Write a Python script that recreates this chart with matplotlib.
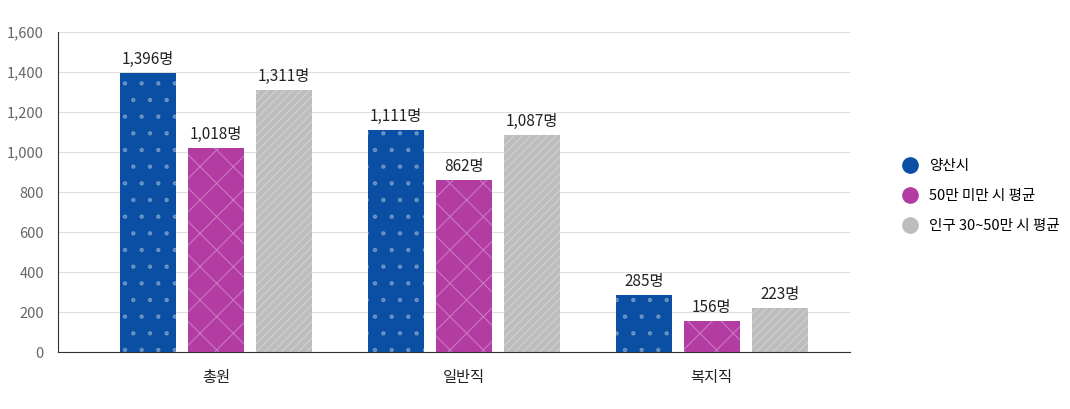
import matplotlib.pyplot as plt
import numpy as np

plt.rcParams['font.family'] = ['Noto Sans CJK KR', 'DejaVu Sans']
plt.rcParams['hatch.linewidth'] = 0.8

categories = ['총원', '일반직', '복지직']
series = ['양산시', '50만 미만 시 평균', '인구 30~50만 시 평균']
yangsan = [1396, 1111, 285]
under50 = [1018, 862, 156]
pop3050 = [1311, 1087, 223]

colors = ['#0a4fa3', '#b33ca3', '#bdbdbd']
hatches = ['.', 'x', '////']

fig = plt.figure(figsize=(10.7, 4.09), dpi=100)
ax = fig.add_axes([0.054, 0.139, 0.74, 0.783])

x = np.arange(len(categories))
w = 0.226
off = 0.274
handles = []
for i, (vals, c, h, name) in enumerate(zip([yangsan, under50, pop3050], colors, hatches, series)):
    bars = ax.bar(x + (i - 1) * off, vals, w, color=c, hatch=h, edgecolor=(1, 1, 1, 0.3), linewidth=0)
    for b, v in zip(bars, vals):
        ax.text(b.get_x() + w / 2, v + 25, f'{v:,}명', ha='center', va='bottom', fontsize=11, color='#222222')
    handles.append(plt.Line2D([], [], marker='o', ls='', color=c, markersize=11, label=name))

ax.set_xlim(-0.637, 2.556)
ax.set_ylim(0, 1600)
ax.set_yticks(range(0, 1601, 200))
ax.set_yticklabels([f'{v:,}' for v in range(0, 1601, 200)])
ax.set_xticks(x)
ax.set_xticklabels(categories)
ax.grid(axis='y', color='#dddddd', linewidth=0.8)
ax.set_axisbelow(True)
for s in ['top', 'right']:
    ax.spines[s].set_visible(False)
ax.spines['left'].set_color('#333333')
ax.spines['bottom'].set_color('#333333')
ax.tick_params(axis='y', length=0, labelsize=10.5, colors='#666666', pad=10)
ax.tick_params(axis='x', length=0, labelsize=11, colors='#222222', pad=12)

fig.legend(handles=handles, loc='center left', bbox_to_anchor=(0.825, 0.52), frameon=False,
           fontsize=10.5, labelspacing=1.1, handletextpad=0.3)

fig.savefig('out.png', dpi=100)
